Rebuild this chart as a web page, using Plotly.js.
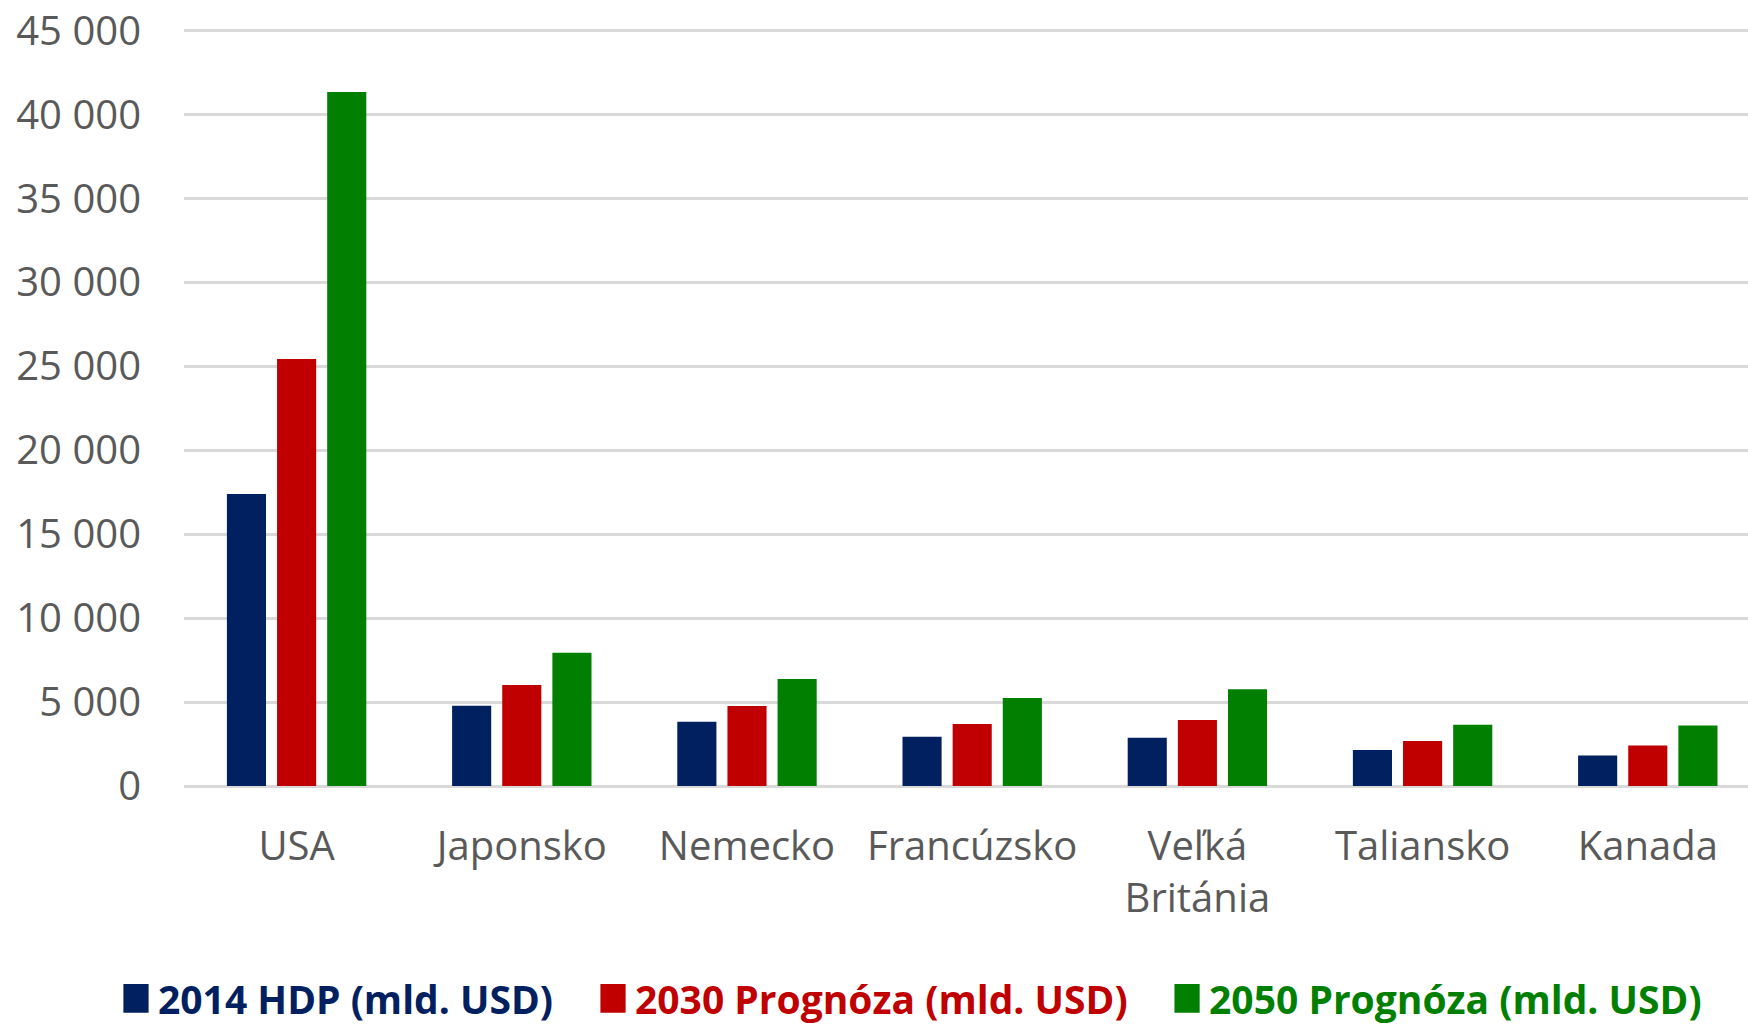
<!DOCTYPE html>
<html>
<head>
<meta charset="utf-8">
<script src="https://cdn.plot.ly/plotly-3.0.1.min.js"></script>
<style>
html,body{margin:0;padding:0;background:#fff;}
#chart{width:1748px;height:1025px;}
</style>
</head>
<body>
<div id="chart"></div>
<script>
const categories = ['USA', 'Japonsko', 'Nemecko', 'Francúzsko', 'Veľká<br>Británia', 'Taliansko', 'Kanada'];
const seriesNames = ['2014 HDP (mld. USD)', '2030 Prognóza (mld. USD)', '2050 Prognóza (mld. USD)'];
const gdp2014 = [17400, 4780, 3830, 2940, 2880, 2140, 1820];
const forecast2030 = [25440, 6010, 4760, 3690, 3930, 2680, 2420];
const forecast2050 = [41350, 7940, 6370, 5240, 5770, 3650, 3610];
const colors = ['#002060', '#C00000', '#007F00'];

const seriesValues = [gdp2014, forecast2030, forecast2050];
const legendIds = ['legend', 'legend2', 'legend3'];
const legendX = [0.0675, 0.3404, 0.6688];

const traces = seriesValues.map((vals, i) => ({
  type: 'bar',
  x: categories,
  y: vals,
  name: seriesNames[i],
  legend: legendIds[i],
  marker: {color: colors[i]},
  hoverinfo: 'skip'
}));

const layout = {
  width: 1748,
  height: 1025,
  margin: {l: 184, r: 0, t: 29, b: 239, pad: 0},
  paper_bgcolor: '#ffffff',
  plot_bgcolor: '#ffffff',
  separators: ', ',
  barmode: 'group',
  bargap: 0.332,
  bargroupgap: 0.22,
  font: {family: '"Open Sans", sans-serif', color: '#595959', size: 40},
  xaxis: {
    type: 'category',
    range: [-0.5, 6.445],
    showgrid: false,
    showline: false,
    zeroline: false,
    ticks: '',
    ticklabelstandoff: 33,
    tickfont: {family: '"Open Sans", sans-serif', size: 40, color: '#595959'}
  },
  yaxis: {
    range: [0, 45100],
    dtick: 5000,
    tick0: 0,
    tickformat: ',d',
    showgrid: true,
    gridcolor: '#D9D9D9',
    gridwidth: 3,
    zeroline: true,
    zerolinecolor: '#D9D9D9',
    zerolinewidth: 3,
    showline: false,
    ticks: '',
    ticklabelstandoff: 42,
    tickfont: {family: '"Open Sans", sans-serif', size: 40, color: '#595959'}
  },
  showlegend: true
};

legendIds.forEach((id, i) => {
  layout[id] = {
    orientation: 'h',
    xref: 'container',
    yref: 'container',
    x: legendX[i],
    xanchor: 'left',
    y: 0.0258,
    yanchor: 'middle',
    borderwidth: 0,
    bgcolor: 'rgba(0,0,0,0)',
    font: {family: '"Open Sans", sans-serif', size: 39, color: colors[i], weight: 'bold'}
  };
});

Plotly.newPlot('chart', traces, layout, {staticPlot: true}).then(() => {
  document.querySelectorAll('.legendpoints path').forEach(p => {
    const t = p.getAttribute('transform') || '';
    p.setAttribute('transform', t + ' translate(-2,0) scale(2.1,2.4)');
  });
});
</script>
</body>
</html>
